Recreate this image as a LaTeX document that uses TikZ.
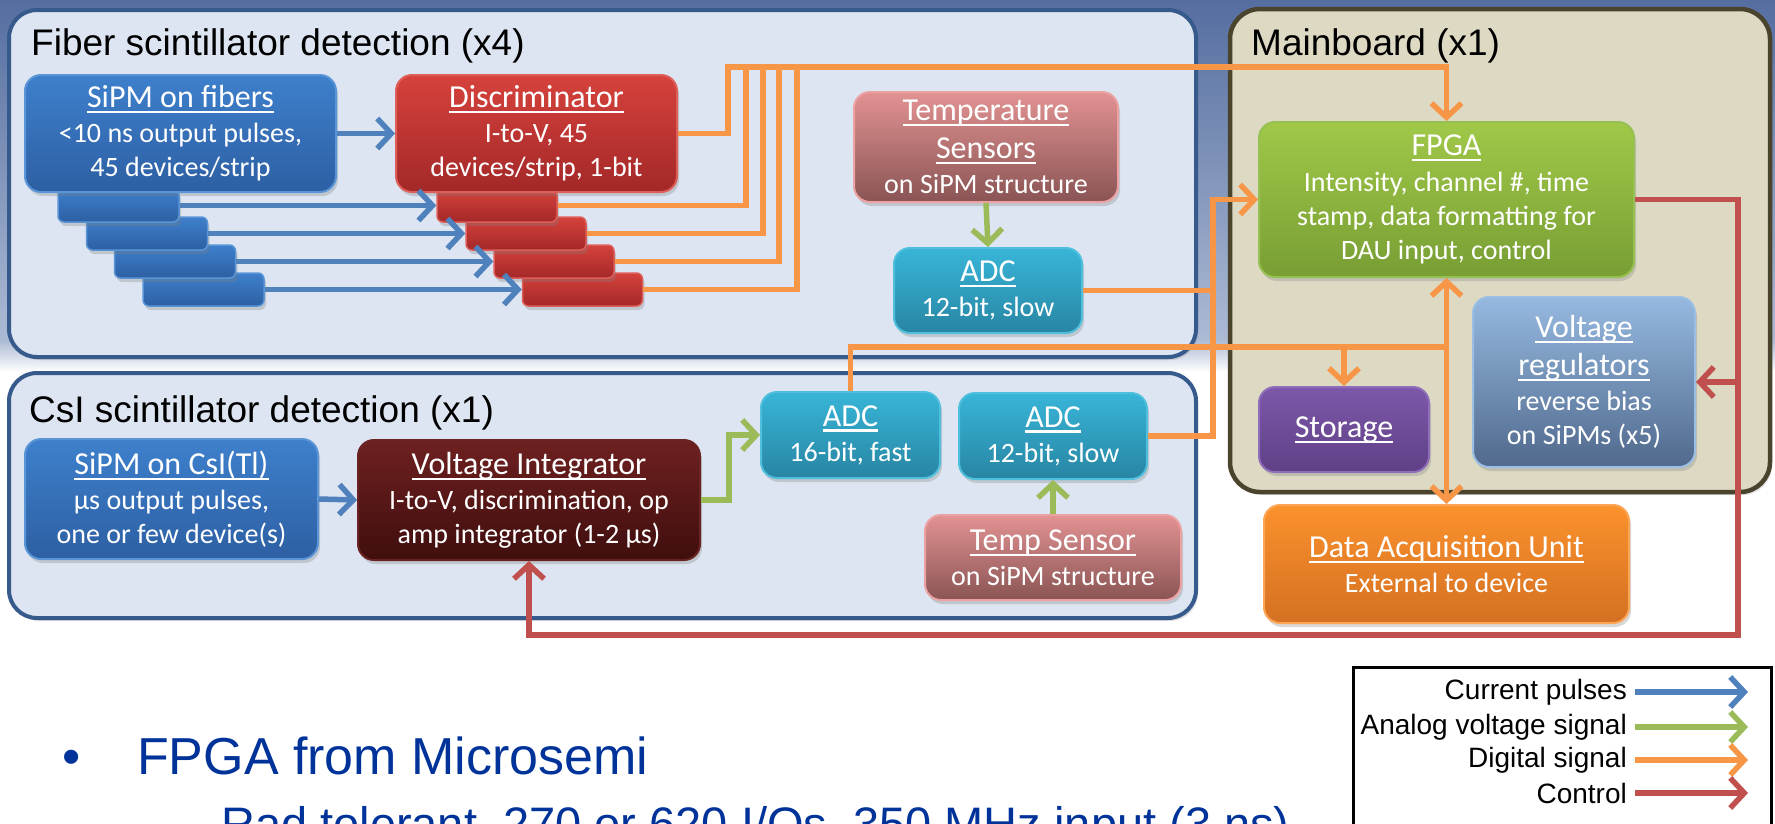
\documentclass[tikz,border=0pt]{standalone}
\usepackage{fontspec}
\setmainfont{Carlito}
\newfontfamily\arialf{Liberation Sans}
\usetikzlibrary{arrows.meta,shadows}

\definecolor{bgtop}{RGB}{85,110,160}
\definecolor{bgmid}{RGB}{172,186,212}
\definecolor{grpfill}{RGB}{220,229,241}
\definecolor{grpdraw}{RGB}{55,90,140}
\definecolor{mbfill}{RGB}{221,217,195}
\definecolor{mbdraw}{RGB}{75,68,45}
\definecolor{cblue}{RGB}{79,129,189}
\definecolor{cgreen}{RGB}{155,187,89}
\definecolor{corange}{RGB}{247,150,70}
\definecolor{cred}{RGB}{192,80,77}
\definecolor{txtblue}{RGB}{0,51,153}
\definecolor{sbT}{RGB}{62,128,204}\definecolor{sbB}{RGB}{45,95,163}\definecolor{sbD}{RGB}{90,150,215}
\definecolor{rdT}{RGB}{214,66,60}\definecolor{rdB}{RGB}{163,40,40}\definecolor{rdD}{RGB}{222,95,90}
\definecolor{pkT}{RGB}{226,146,146}\definecolor{pkB}{RGB}{138,84,84}\definecolor{pkD}{RGB}{236,162,162}
\definecolor{cyT}{RGB}{56,181,216}\definecolor{cyB}{RGB}{40,133,163}\definecolor{cyD}{RGB}{78,192,222}
\definecolor{vdT}{RGB}{110,32,32}\definecolor{vdB}{RGB}{64,14,14}\definecolor{vdD}{RGB}{105,35,35}
\definecolor{grT}{RGB}{160,200,72}\definecolor{grB}{RGB}{120,158,52}\definecolor{grD}{RGB}{150,192,82}
\definecolor{puT}{RGB}{125,88,170}\definecolor{puB}{RGB}{95,64,134}\definecolor{puD}{RGB}{142,110,186}
\definecolor{lbT}{RGB}{150,185,225}\definecolor{lbB}{RGB}{80,105,140}\definecolor{lbD}{RGB}{155,190,228}
\definecolor{orT}{RGB}{251,146,45}\definecolor{orB}{RGB}{212,112,34}\definecolor{orD}{RGB}{252,165,85}

\newcommand\myul[1]{\setbox0=\hbox{#1}\rlap{\rule[-0.17em]{\wd0}{0.065em}}\box0}
\newcommand\blkhead[1]{{\fontsize{32}{38}\selectfont\myul{#1}}}

\tikzset{
  grpbox/.style={fill=grpfill, draw=grpdraw, line width=4pt, rounded corners=28pt,
    drop shadow={opacity=0.25,shadow xshift=2pt,shadow yshift=-3pt}},
  mbbox/.style={fill=mbfill, draw=mbdraw, line width=4.5pt, rounded corners=30pt,
    drop shadow={opacity=0.25,shadow xshift=2pt,shadow yshift=-3pt}},
  grptitle/.style={font=\arialf\fontsize{37}{44}\selectfont, text=black, anchor=base west, inner sep=0pt},
  blk/.style={rounded corners=16pt, line width=2pt, inner sep=0pt, text=white, align=center,
    font=\fontsize{28}{34}\selectfont,
    drop shadow={opacity=0.3,shadow xshift=2pt,shadow yshift=-4pt}},
  sz/.style 2 args={minimum width=#1, minimum height=#2},
  stk/.style={rounded corners=6pt, line width=1.5pt},
  sbfill/.style={top color=sbT, bottom color=sbB, draw=sbD},
  rdfill/.style={top color=rdT, bottom color=rdB, draw=rdD},
  pkfill/.style={top color=pkT, bottom color=pkB, draw=pkD},
  cyfill/.style={top color=cyT, bottom color=cyB, draw=cyD},
  vdfill/.style={top color=vdT, bottom color=vdB, draw=vdD},
  grfill/.style={top color=grT, bottom color=grB, draw=grD},
  pufill/.style={top color=puT, bottom color=puB, draw=puD},
  lbfill/.style={top color=lbT, bottom color=lbB, draw=lbD},
  orfill/.style={top color=orT, bottom color=orB, draw=orD},
  wire/.style={line width=5.5pt},
  cur/.style={wire, draw=cblue},
  ana/.style={wire, draw=cgreen},
  dig/.style={wire, draw=corange},
  ctl/.style={wire, draw=cred},
  arr/.style={-{Straight Barb[length=14pt,width=30pt]}},
  legtext/.style={font=\arialf\fontsize{28}{32}\selectfont, anchor=east, inner sep=0pt},
  bullettext/.style={font=\arialf\fontsize{52}{60}\selectfont, text=txtblue, anchor=base west, inner sep=0pt},
}

\begin{document}
\begin{tikzpicture}[x=1pt,y=-1pt]
\useasboundingbox (0,0) rectangle (1775,823);
\clip (0,0) rectangle (1775,823);
\fill[white] (0,0) rectangle (1775,823);
\shade[top color=bgtop,bottom color=bgmid] (0,0) rectangle (1775,340);
\shade[top color=bgmid,bottom color=white] (0,340) rectangle (1775,372);

% group boxes
\draw[grpbox] (9,10) rectangle (1196,357);
\draw[grpbox] (9,373) rectangle (1196,618);
\draw[mbbox] (1230,9) rectangle (1770,492);

\node[grptitle] (tfib) at (31,55) {Fiber scintillator detection (x4)};
\node[grptitle] (tcsi) at (29,422) {CsI scintillator detection (x1)};
\node[grptitle] (tmb) at (1251,55) {Mainboard (x1)};

% fiber stack
\node[blk,stk,sbfill,sz={121}{33}] (b4) at (203.5,289.5) {};
\node[blk,stk,sbfill,sz={121}{33}] (b3) at (175,261.5) {};
\node[blk,stk,sbfill,sz={121}{33}] (b2) at (147,233.5) {};
\node[blk,stk,sbfill,sz={121}{33}] (b1) at (118.5,205.5) {};
\node[blk,stk,rdfill,sz={120}{33}] (r4) at (582.5,289.5) {};
\node[blk,stk,rdfill,sz={120}{33}] (r3) at (554,261.5) {};
\node[blk,stk,rdfill,sz={120}{33}] (r2) at (526,233.5) {};
\node[blk,stk,rdfill,sz={120}{33}] (r1) at (497,205.5) {};

\node[blk,sbfill,sz={311}{117}] (sipmf) at (180.5,133.5)
  {\blkhead{SiPM on fibers}\\[1pt] <10 ns output pulses,\\45 devices/strip};
\node[blk,rdfill,sz={281}{117}] (disc) at (536.5,133.5)
  {\blkhead{Discriminator}\\[1pt] I-to-V, 45\\devices/strip, 1-bit};
\node[blk,pkfill,sz={264}{110}] (ts1) at (986,147)
  {\blkhead{Temperature}\\[4pt]\blkhead{Sensors}\\[1pt] on SiPM structure};
\node[blk,cyfill,sz={188}{85}] (adc1) at (988,290.5)
  {\blkhead{ADC}\\[1pt] 12-bit, slow};

% mainboard
\node[blk,grfill,sz={375}{155}] (fpga) at (1446.5,199.5)
  {\blkhead{FPGA}\\[2pt] Intensity, channel \#, time\\stamp, data formatting for\\DAU input, control};
\node[blk,pufill,sz={170}{85}] (stor) at (1344,429.5) {\blkhead{Storage}};
\node[blk,lbfill,sz={222}{170}] (vreg) at (1584,382)
  {\blkhead{Voltage}\\[4pt]\blkhead{regulators}\\[1pt] reverse bias\\on SiPMs (x5)};
\node[blk,orfill,sz={365}{118}] (dau) at (1446.5,564)
  {\blkhead{Data Acquisition Unit}\\[1pt] External to device};

% CsI
\node[blk,sbfill,sz={293}{120}] (sipmc) at (171.5,499)
  {\blkhead{SiPM on CsI(Tl)}\\[1pt] µs output pulses,\\one or few device(s)};
\node[blk,vdfill,sz={342}{120}] (vi) at (529,500)
  {\blkhead{Voltage Integrator}\\[1pt] I-to-V, discrimination, op\\amp integrator (1-2 µs)};
\node[blk,cyfill,sz={179}{86}] (adcf) at (850.5,435)
  {\blkhead{ADC}\\[1pt] 16-bit, fast};
\node[blk,cyfill,sz={188}{86}] (adcs) at (1053,436)
  {\blkhead{ADC}\\[1pt] 12-bit, slow};
\node[blk,pkfill,sz={256}{85}] (tsc) at (1053,557.5)
  {\blkhead{Temp Sensor}\\[1pt] on SiPM structure};

% current pulses
\draw[cur,arr] (sipmf.east) -- (disc.west);
\draw[cur,arr] (b1.east) -- (r1.west);
\draw[cur,arr] (b2.east) -- (r2.west);
\draw[cur,arr] (b3.east) -- (r3.west);
\draw[cur,arr] (b4.east) -- (r4.west);
\draw[cur,arr] (sipmc.east) -- (vi.west);

% analog voltage
\draw[ana,arr] (ts1.south) -- (adc1.north);
\draw[ana,arr] (tsc.north) -- (adcs.south);
\draw[ana,arr] (vi.east) -- (729,500) |- (adcf.west);

% digital
\draw[dig,arr] (disc.east) -| (728,67) -| (fpga.north);
\draw[dig] (r1.east) -| (746,64.5);
\draw[dig] (r2.east) -| (763,64.5);
\draw[dig] (r3.east) -| (779,64.5);
\draw[dig] (r4.east) -| (797,64.5);
\draw[dig] (adc1.east) -- (1215.5,290.5);
\draw[dig,arr] (adcs.east) -| (1213,199.5) -- (fpga.west);
\coordinate (jf) at (1446.5,347);
\coordinate (js) at (1344,347);
\draw[dig,arr] (adcf.north) |- (jf) -- (fpga.south);
\draw[dig,arr] (jf) -- (dau.north);
\draw[dig,arr] (js) -- (stor.north);

% control
\coordinate (jv) at (1738,382);
\draw[ctl,arr] (fpga.east) -| (1738,635) -| (vi.south);
\draw[ctl,arr] (jv) -- (vreg.east);

% legend
\draw[line width=3pt] (1353,667) rectangle (1771,880);
\node[legtext] (lg1) at (1627,692) {Current pulses};
\node[legtext] (lg2) at (1627,727) {Analog voltage signal};
\node[legtext] (lg3) at (1627,760) {Digital signal};
\node[legtext] (lg4) at (1627,793) {Control};
\coordinate (la1) at (1748,692); \coordinate (la2) at (1748,727);
\coordinate (la3) at (1748,760); \coordinate (la4) at (1748,793);
\draw[cur,arr] (1635,692) -- (la1);
\draw[ana,arr] (1635,727) -- (la2);
\draw[dig,arr] (1635,760) -- (la3);
\draw[ctl,arr] (1635,793) -- (la4);

% bullet text
\node[bullettext] (bul) at (62,774) {•};
\node[bullettext] (bt1) at (137,774) {FPGA from Microsemi};
\node[bullettext, font=\arialf\fontsize{47}{54}\selectfont] (bt2) at (221,840)
  {Rad tolerant, 270 or 620 I/Os, 350 MHz input (3 ns)};
\end{tikzpicture}
\end{document}
